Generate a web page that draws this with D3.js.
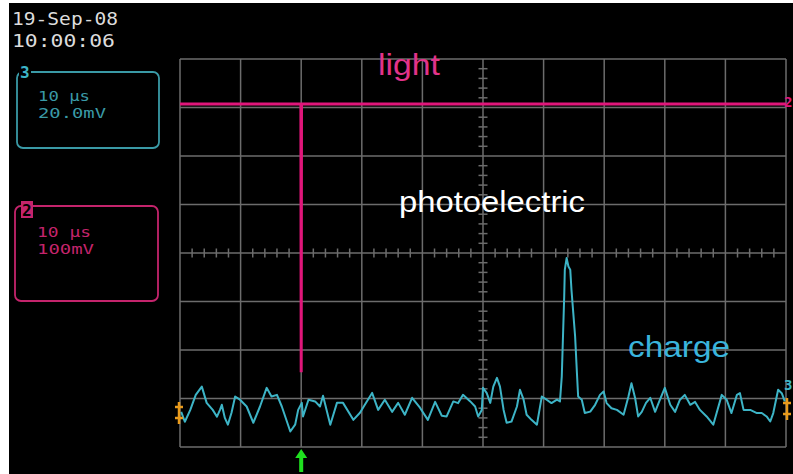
<!DOCTYPE html>
<html>
<head>
<meta charset="utf-8">
<script src="https://cdn.jsdelivr.net/npm/d3@7/dist/d3.min.js"></script>
<style>
  html, body { margin: 0; padding: 0; background: #fff; }
  svg { display: block; }
</style>
</head>
<body>
<svg id="scope" width="793" height="474"></svg>
<script>
// Channel 3 (charge): time in µs, voltage in mV
const ch3Time = [0.2,0.8,1.7,2.6,3.6,4.4,5.4,6.1,6.6,6.9,7.4,7.9,8.5,9.1,9.9,11.0,12.1,13.2,14.3,15.1,16.0,16.8,18.2,19.0,19.5,20.1,20.3,21.2,22.3,23.1,23.6,24.8,25.9,26.9,28.6,29.7,30.5,31.7,32.7,33.8,35.0,36.0,37.1,38.3,39.6,40.9,42.1,43.2,44.0,45.1,45.9,46.7,47.9,48.7,49.2,49.8,50.0,50.6,51.2,51.7,52.3,52.8,53.4,53.9,54.7,55.6,56.1,56.7,57.2,58.0,58.9,59.7,60.5,61.3,62.2,62.7,63.0,63.4,63.5,63.8,64.1,64.4,64.6,64.9,65.2,65.5,65.7,66.3,66.8,67.7,68.5,69.3,69.9,70.4,71.2,72.1,73.2,74.0,74.5,75.1,75.6,76.2,76.9,77.6,78.4,79.2,80.0,80.9,81.7,82.5,83.3,84.2,85.0,85.8,86.9,88.0,89.4,90.2,91.0,91.9,92.4,93.0,94.1,95.2,96.0,96.8,97.4,97.9,98.7,99.3,99.8];
const ch3Volts = [-2.9,-7.0,-2.1,4.1,7.5,0.8,-2.1,-4.9,-2.1,0,-5.4,-8.2,-3.3,3.4,2.1,-0.7,-7.4,-0.7,7.0,3.4,4.1,-0.7,-11.0,-8.2,-2.1,0.8,-4.8,2.1,1.4,-0.7,3.7,-8.2,0.8,0.8,-6.2,-3.3,0,4.9,-2.1,2.1,-2.9,0.8,-4.1,2.9,-1.2,-6.2,1.2,-4.5,-4.8,1.4,0.7,4.1,1.4,-0.7,-4.8,-2.1,7.0,4.9,0.8,7.5,11.1,7.5,-2.1,-7.4,-6.9,-0.7,6.2,2.1,-4.1,-6.2,-8.2,3.4,2.1,0.7,2.1,1.4,11.7,44.7,55.7,60.5,57.0,55.7,47.4,37.8,28.2,13.1,3.4,2.1,-3.4,-2.8,0,4.1,5.5,0.7,-1.4,-2.1,-4.1,3.4,8.9,2.8,-4.8,-2.9,0.8,2.9,-2.9,2.1,7.0,0,-2.9,2.1,4.1,0,1.2,-2.1,-4.8,-8.2,4.1,2.1,-3.4,4.1,4.8,-2.1,-2.1,-3.4,-3.4,-4.8,-6.9,-3.4,6.2,4.8,1.4];

// Channel 2 (light): time in µs, voltage in mV
const ch2Time  = [0, 19.9, 19.95, 20.0, 20.05, 100];
const ch2Volts = [0, 0, 0, -553, 0, 0];

// Timebase and vertical settings
const timeDomain = [0, 100];       // 10 µs/div × 10 divisions
const divDomain = [-4, 4];         // 8 vertical divisions
const ch3Scale = 20;               // mV/div
const ch2Scale = 100;              // mV/div
const ch3Offset = -3.13;           // divisions
const ch2Offset = 3.07;            // divisions

const infoDate = "19-Sep-08";
const infoTime = "10:00:06";
const ch3Info = ["10 μs", "20.0mV"];
const ch2Info = ["10 μs", "100mV"];

const svg = d3.select("#scope");
const W = 793, H = 474;

// screen background
svg.append("rect").attr("x", 9).attr("y", 3).attr("width", W - 9).attr("height", H - 3).attr("fill", "#000");

const x = d3.scaleLinear().domain(timeDomain).range([180, 786]);
const y = d3.scaleLinear().domain(divDomain).range([447, 59]);
const y3 = v => y(ch3Offset + v / ch3Scale);
const y2 = v => y(ch2Offset + v / ch2Scale);

const gridColor = "#6c6c6c";
const grid = svg.append("g").attr("stroke", gridColor).attr("stroke-width", 1.5).attr("fill", "none");

// major grid lines
d3.range(timeDomain[0], timeDomain[1] + 1, 10).forEach(t => {
  grid.append("line").attr("x1", x(t)).attr("x2", x(t)).attr("y1", y(divDomain[0])).attr("y2", y(divDomain[1]));
});
d3.range(divDomain[0], divDomain[1] + 1, 1).forEach(d => {
  grid.append("line").attr("x1", x(timeDomain[0])).attr("x2", x(timeDomain[1])).attr("y1", y(d)).attr("y2", y(d));
});

// minor ticks along the centre axes
d3.range(0, 100.01, 2).forEach(t => {
  if (t % 10 === 0) return;
  grid.append("line").attr("x1", x(t)).attr("x2", x(t)).attr("y1", y(0) - 4.5).attr("y2", y(0) + 4.5);
});
d3.range(-4, 4.001, 0.2).forEach(d => {
  if (Math.abs(d - Math.round(d)) < 1e-6) return;
  grid.append("line").attr("x1", x(50) - 4.5).attr("x2", x(50) + 4.5).attr("y1", y(d)).attr("y2", y(d));
});

// traces
const ch2Data = ch2Time.map((t, i) => [t, ch2Volts[i]]);
const ch3Data = ch3Time.map((t, i) => [t, ch3Volts[i]]);

svg.append("path")
  .datum(ch2Data)
  .attr("fill", "none")
  .attr("stroke", "#e0167a")
  .attr("stroke-width", 3)
  .attr("d", d3.line().x(d => x(d[0])).y(d => y2(d[1])));

svg.append("path")
  .datum(ch3Data)
  .attr("fill", "none")
  .attr("stroke", "#3db4c6")
  .attr("stroke-width", 2)
  .attr("stroke-linejoin", "round")
  .attr("d", d3.line().x(d => x(d[0])).y(d => y3(d[1])));

// trigger level markers
function trigMarker(cx, cy) {
  const g = svg.append("g").attr("stroke", "#e89a1c").attr("stroke-width", 2.5).attr("fill", "none");
  g.append("line").attr("x1", cx).attr("x2", cx).attr("y1", cy - 11).attr("y2", cy + 11);
  g.append("line").attr("x1", cx - 4).attr("x2", cx + 4).attr("y1", cy - 6).attr("y2", cy - 6);
  g.append("line").attr("x1", cx - 4).attr("x2", cx + 4).attr("y1", cy + 5).attr("y2", cy + 5);
}
trigMarker(179, 413);
trigMarker(787, 409);

// channel reference labels at the right edge
const mono = "DejaVu Sans Mono";
svg.append("text").attr("x", 784).attr("y", 107).attr("fill", "#e0167a")
  .attr("font-family", mono).attr("font-size", 14).attr("font-weight", "bold").text("2");
svg.append("text").attr("x", 784).attr("y", 390).attr("fill", "#3db4c6")
  .attr("font-family", mono).attr("font-size", 14).attr("font-weight", "bold").text("3");

// trigger position arrow
const ax = x(20.0);
svg.append("path")
  .attr("d", `M${ax},449 L${ax + 6},458 L${ax + 2},458 L${ax + 2},472 L${ax - 2},472 L${ax - 2},458 L${ax - 6},458 Z`)
  .attr("fill", "#1fe01f");

// date / time
svg.append("text").attr("x", 12).attr("y", 25).attr("fill", "#dcdcdc")
  .attr("font-family", mono).attr("font-size", 18).attr("textLength", 106).attr("lengthAdjust", "spacingAndGlyphs").text(infoDate);
svg.append("text").attr("x", 12).attr("y", 47).attr("fill", "#dcdcdc")
  .attr("font-family", mono).attr("font-size", 18).attr("textLength", 103).attr("lengthAdjust", "spacingAndGlyphs").text(infoTime);

// channel 3 info box
const c3 = "#3a9aa6";
svg.append("rect").attr("x", 17).attr("y", 72).attr("width", 142).attr("height", 76).attr("rx", 6)
  .attr("fill", "none").attr("stroke", c3).attr("stroke-width", 1.8);
svg.append("rect").attr("x", 19).attr("y", 64).attr("width", 12).attr("height", 16).attr("fill", "#000");
svg.append("text").attr("x", 20).attr("y", 78).attr("fill", "#3cb4c8").attr("font-family", mono)
  .attr("font-size", 16).attr("font-weight", "bold").text("3");
ch3Info.forEach((s, i) => {
  svg.append("text").attr("x", 38).attr("y", 101 + i * 17).attr("fill", c3).attr("font-family", mono)
    .attr("font-size", 14.5).attr("textLength", i ? 68 : 52).attr("lengthAdjust", "spacingAndGlyphs").text(s);
});

// channel 2 info box
const c2 = "#c4246c";
svg.append("rect").attr("x", 15).attr("y", 206).attr("width", 143).attr("height", 95).attr("rx", 6)
  .attr("fill", "none").attr("stroke", c2).attr("stroke-width", 1.8);
svg.append("rect").attr("x", 21).attr("y", 201).attr("width", 12).attr("height", 17).attr("fill", c2);
svg.append("text").attr("x", 22).attr("y", 216).attr("fill", "#000").attr("font-family", mono)
  .attr("font-size", 16).attr("font-weight", "bold").text("2");
ch2Info.forEach((s, i) => {
  svg.append("text").attr("x", 37).attr("y", 237 + i * 17).attr("fill", c2).attr("font-family", mono)
    .attr("font-size", 14.5).attr("textLength", i ? 57 : 54).attr("lengthAdjust", "spacingAndGlyphs").text(s);
});

// annotations
const sans = "Liberation Sans, Arial, sans-serif";
svg.append("text").attr("x", 378).attr("y", 75).attr("fill", "#e2338a").attr("font-family", sans)
  .attr("font-size", 29).attr("textLength", 62).attr("lengthAdjust", "spacingAndGlyphs").text("light");
svg.append("text").attr("x", 399).attr("y", 212).attr("fill", "#ffffff").attr("font-family", sans)
  .attr("font-size", 29).attr("textLength", 186).attr("lengthAdjust", "spacingAndGlyphs").text("photoelectric");
svg.append("text").attr("x", 628).attr("y", 357).attr("fill", "#3ab4dc").attr("font-family", sans)
  .attr("font-size", 29).attr("textLength", 102).attr("lengthAdjust", "spacingAndGlyphs").text("charge");
</script>
</body>
</html>
